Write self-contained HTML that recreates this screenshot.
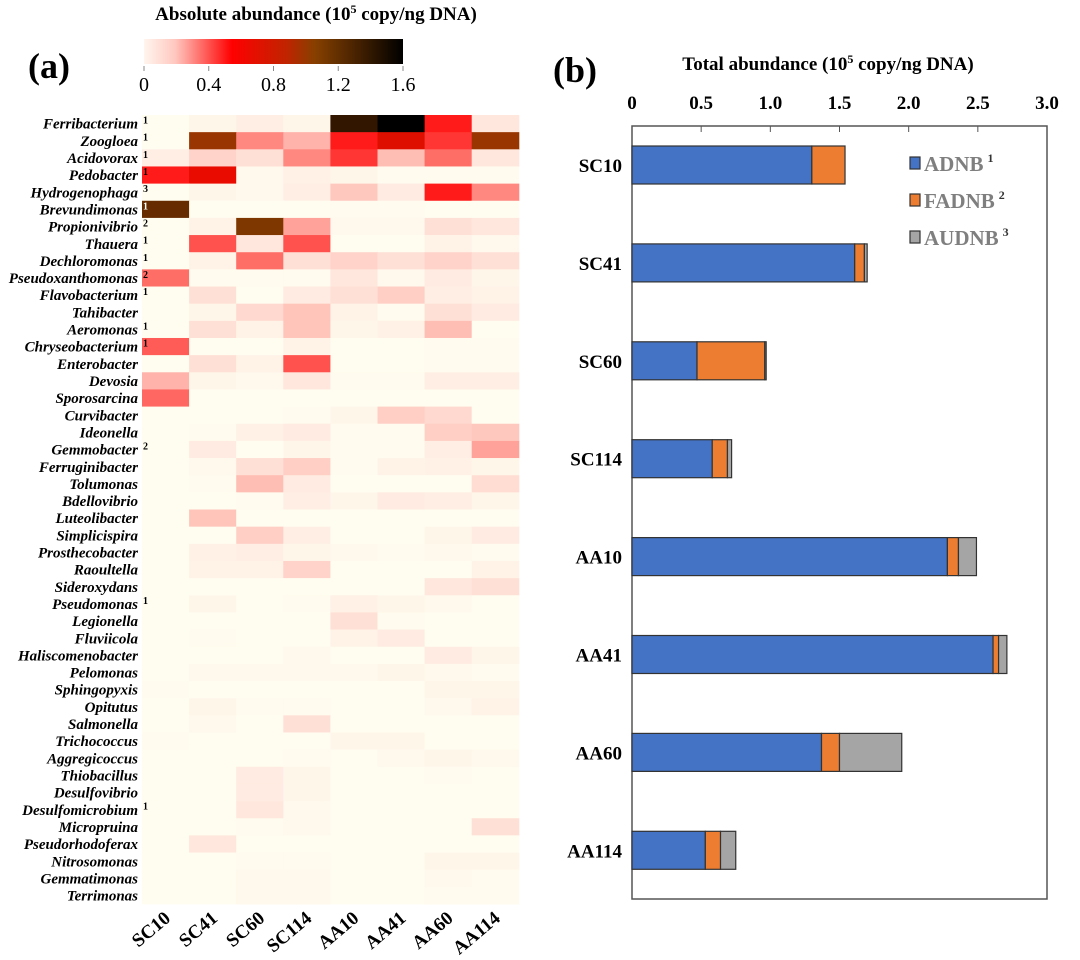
<!DOCTYPE html>
<html><head><meta charset="utf-8"><style>
html,body{margin:0;padding:0;background:#fff;}
svg{display:block;font-family:"Liberation Serif",serif;}
</style></head><body>
<svg id="fig" width="1080" height="960" viewBox="0 0 1080 960">
<defs>
<linearGradient id="cbar" x1="0" x2="1" y1="0" y2="0">
<stop offset="0" stop-color="#fff6ee"/>
<stop offset="0.12" stop-color="#ffc8c0"/>
<stop offset="0.34" stop-color="#ff0000"/>
<stop offset="0.55" stop-color="#c02400"/>
<stop offset="0.66" stop-color="#864000"/>
<stop offset="1" stop-color="#000000"/>
</linearGradient>
</defs>
<text x="316" y="20" text-anchor="middle" font-weight="bold" font-size="19">Absolute abundance (10<tspan dy="-7" font-size="12">5</tspan><tspan dy="7"> copy/ng DNA)</tspan></text>
<text x="28" y="78" font-weight="bold" font-size="36">(a)</text>
<rect x="144" y="39" width="259" height="25" fill="url(#cbar)"/>
<g id="cbticks"></g>
<g id="heat"></g>
<text x="553" y="82" font-weight="bold" font-size="36">(b)</text>
<text x="828" y="70" text-anchor="middle" font-weight="bold" font-size="19">Total abundance (10<tspan dy="-7" font-size="12">5</tspan><tspan dy="7"> copy/ng DNA)</tspan></text>
<g id="bars"></g>
</svg>
<script>
const NS="http://www.w3.org/2000/svg";
const genera=["Ferribacterium","Zoogloea","Acidovorax","Pedobacter","Hydrogenophaga","Brevundimonas","Propionivibrio","Thauera","Dechloromonas","Pseudoxanthomonas","Flavobacterium","Tahibacter","Aeromonas","Chryseobacterium","Enterobacter","Devosia","Sporosarcina","Curvibacter","Ideonella","Gemmobacter","Ferruginibacter","Tolumonas","Bdellovibrio","Luteolibacter","Simplicispira","Prosthecobacter","Raoultella","Sideroxydans","Pseudomonas","Legionella","Fluviicola","Haliscomenobacter","Pelomonas","Sphingopyxis","Opitutus","Salmonella","Trichococcus","Aggregicoccus","Thiobacillus","Desulfovibrio","Desulfomicrobium","Micropruina","Pseudorhodoferax","Nitrosomonas","Gemmatimonas","Terrimonas"];
const superscripts=["1","1","1","1","3","1","2","1","1","2","1","","1","1","","","","","","2","","","","","","","","","1","","","","","","","","","","","","1","","","","",""];
const samples=["SC10","SC41","SC60","SC114","AA10","AA41","AA60","AA114"];
const heatValues=[
[0,0.03,0.06,0.03,1.4,1.6,0.5,0.08],
[0,1.0,0.3,0.22,0.5,0.7,0.45,1.0],
[0.06,0.14,0.1,0.3,0.45,0.2,0.35,0.08],
[0.5,0.65,0.02,0.05,0.03,0.01,0.01,0.01],
[0,0.03,0.02,0.06,0.17,0.07,0.5,0.3],
[1.2,0,0,0,0.01,0.01,0,0],
[0,0.04,1.1,0.25,0.02,0.02,0.1,0.08],
[0,0.4,0.08,0.4,0,0,0.04,0.02],
[0,0.04,0.35,0.1,0.14,0.1,0.14,0.1],
[0.35,0.01,0.01,0.01,0.08,0.02,0.07,0.03],
[0,0.1,0,0.07,0.1,0.15,0.06,0.04],
[0,0.03,0.12,0.18,0.04,0.01,0.1,0.07],
[0,0.1,0.04,0.18,0.03,0.05,0.2,0],
[0.38,0,0,0.04,0,0,0.01,0.01],
[0,0.1,0.04,0.4,0,0,0.01,0.01],
[0.22,0.03,0.02,0.08,0.01,0.01,0.06,0.06],
[0.36,0,0,0,0,0,0,0],
[0,0,0,0.01,0.03,0.15,0.12,0],
[0,0.01,0.05,0.07,0.01,0.01,0.15,0.17],
[0,0.07,0,0.03,0.01,0.01,0.06,0.25],
[0,0.02,0.1,0.15,0.01,0.04,0.05,0.03],
[0,0.01,0.2,0.07,0,0,0,0.11],
[0,0,0.01,0.06,0.03,0.07,0.06,0.03],
[0,0.18,0,0,0,0,0,0],
[0,0,0.15,0.06,0,0,0.03,0.07],
[0,0.05,0.06,0.03,0.02,0.01,0.02,0.01],
[0,0.04,0.04,0.14,0,0,0,0.04],
[0,0,0,0,0,0,0.08,0.1],
[0,0.03,0,0.01,0.05,0.03,0.02,0],
[0,0,0,0,0.1,0.01,0,0],
[0,0.01,0,0,0.04,0.07,0,0],
[0,0,0,0.02,0,0,0.07,0.03],
[0,0.02,0.02,0.02,0.02,0.03,0.02,0.01],
[0.01,0,0,0,0,0,0.03,0.03],
[0,0.03,0.01,0.01,0,0,0.02,0.04],
[0,0.02,0,0.1,0,0,0,0],
[0.01,0,0,0,0.03,0.03,0,0],
[0,0,0,0.01,0,0.02,0.03,0.02],
[0,0,0.07,0.03,0,0,0.01,0],
[0,0,0.07,0.03,0,0,0,0],
[0,0,0.08,0.02,0,0,0,0],
[0,0,0.01,0.02,0,0,0,0.1],
[0,0.08,0,0,0,0,0,0],
[0,0,0.01,0.01,0,0,0.03,0.03],
[0,0,0.02,0.02,0,0,0.02,0.01],
[0,0,0.02,0.02,0,0,0.01,0.01]];
const cbTicks=[0,0.4,0.8,1.2,1.6];
const barCats=["SC10","SC41","SC60","SC114","AA10","AA41","AA60","AA114"];
const adnb=[1.30,1.61,0.47,0.58,2.28,2.61,1.37,0.53];
const fadnb=[0.24,0.07,0.49,0.11,0.08,0.04,0.13,0.11];
const audnb=[0,0.02,0.01,0.03,0.13,0.06,0.45,0.11];
const barTicks=[0,0.5,1.0,1.5,2.0,2.5,3.0];
const barTickLabels=["0","0.5","1.0","1.5","2.0","2.5","3.0"];

function mk(tag,attrs,parent){const e=document.createElementNS(NS,tag);for(const k in attrs)e.setAttribute(k,attrs[k]);parent.appendChild(e);return e;}
const stops=[[0,[255,253,240]],[0.06,[255,238,228]],[0.2,[255,190,180]],[0.55,[255,0,0]],[0.85,[190,30,0]],[1.05,[140,60,0]],[1.6,[0,0,0]]];
function colorOf(v){v=Math.max(0,Math.min(1.6,v));for(let i=1;i<stops.length;i++){if(v<=stops[i][0]){const a=stops[i-1],b=stops[i];const t=(v-a[0])/(b[0]-a[0]);const c=a[1].map((x,j)=>Math.round(x+(b[1][j]-x)*t));return `rgb(${c[0]},${c[1]},${c[2]})`;}}return "rgb(0,0,0)";}
const cbx=v=>144+v/1.6*259;
const cbg=document.getElementById('cbticks');
cbTicks.forEach(t=>{const l=mk('line',{x1:cbx(t),x2:cbx(t),y1:66,y2:71,stroke:'#888','stroke-width':1},cbg);


const tx=mk('text',{x:cbx(t),y:91,'text-anchor':'middle','font-size':20},cbg);tx.textContent=String(t);

});
const hx0=142,hw=47.1,hy0=115,hh=(904-115)/46;
const hx=i=>hx0+i*hw, hy=r=>hy0+r*hh;
const hg=document.getElementById('heat');
heatValues.forEach((row,r)=>{row.forEach((v,c)=>{const rc=mk('rect',{x:hx(c),y:hy(r),width:hw+0.5,height:hh+0.5,fill:colorOf(v)},hg);

});});
genera.forEach((g,r)=>{const t=mk('text',{x:138,y:hy(r)+hh*0.8,'text-anchor':'end','font-size':15,'font-style':'italic','font-weight':'bold'},hg);t.textContent=g;


if(superscripts[r]){const s=mk('text',{x:143,y:hy(r)+hh*0.5,'font-size':10,'font-weight':'bold',fill:r===5?'#fff':'#000'},hg);s.textContent=superscripts[r];

}});
samples.forEach((s,c)=>{const cx=hx(c)+hw/2+6;const t=mk('text',{x:cx,y:920,'text-anchor':'end','font-size':19,'font-weight':'bold',transform:`rotate(-40 ${cx} 920)`},hg);t.textContent=s;

});
const bx0=632,bx1=1047,by0=126,by1=899;
const bx=v=>bx0+v/3*(bx1-bx0);
const bcy=i=>165+i*97.9, bh=38;
const bg=document.getElementById('bars');
const frame=mk('rect',{x:bx0,y:by0,width:bx1-bx0,height:by1-by0,fill:'none',stroke:'#555','stroke-width':1.5},bg);


barTicks.forEach((t,i)=>{const l=mk('line',{x1:bx(t),x2:bx(t),y1:by0,y2:by0+6,stroke:'#555','stroke-width':1},bg);


const tx=mk('text',{x:bx(t),y:109,'text-anchor':'middle','font-size':19,'font-weight':'bold'},bg);tx.textContent=barTickLabels[i];

});
const series=[[adnb,'#4472c4','adnb'],[fadnb,'#ed7d31','fadnb'],[audnb,'#a5a5a5','audnb']];
barCats.forEach((cat,i)=>{let acc=0;series.forEach(([arr,col,nm])=>{const v=arr[i];const r=mk('rect',{x:bx(acc),y:bcy(i)-bh/2,width:Math.max(0,bx(acc+v)-bx(acc)),height:bh,fill:col,stroke:'#333','stroke-width':1.2},bg);


acc+=v;});
const t=mk('text',{x:622,y:bcy(i)+7,'text-anchor':'end','font-size':19,'font-weight':'bold'},bg);t.textContent=cat;

});
const legNames=["ADNB","FADNB","AUDNB"],legSup=["1","2","3"];
series.forEach(([a,col,nm],k)=>{const y=163+k*37;const r=mk('rect',{x:910,y:y-6,width:10,height:12,fill:col,stroke:'#333','stroke-width':1.2},bg);


const t=mk('text',{x:924,y:y+8,'font-size':21,'font-weight':'bold',fill:'#7f7f7f'},bg);t.textContent=legNames[k];


const s=mk('tspan',{dx:4,dy:-9,'font-size':12,fill:'#333'},t);s.textContent=legSup[k];});
</script>
</body></html>
